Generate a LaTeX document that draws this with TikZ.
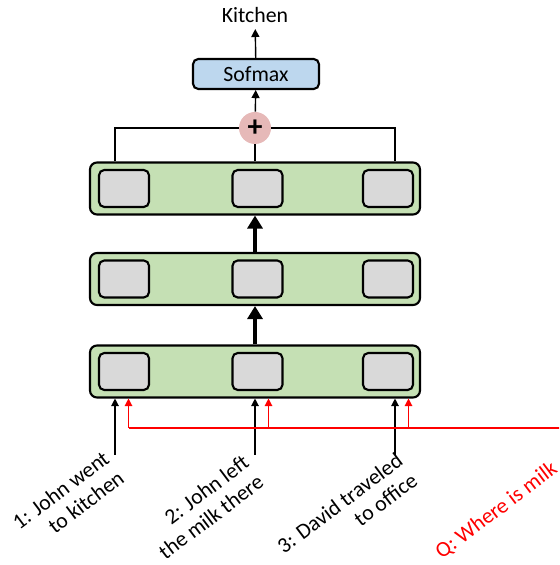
\documentclass[tikz,border=0pt]{standalone}
\usepackage{fontspec}
\setmainfont{Carlito}
\usetikzlibrary{arrows.meta}
\definecolor{layergreen}{HTML}{C5E0B4}
\definecolor{cellgrey}{HTML}{D9D9D9}
\definecolor{softblue}{HTML}{BDD7EE}
\definecolor{sumpink}{HTML}{E6B9B8}
\definecolor{qred}{HTML}{FF0000}

\begin{document}
\begin{tikzpicture}[font=\fontsize{12.4}{14}\selectfont,
  layer/.style={draw, line width=1.2pt, rounded corners=4pt, fill=layergreen,
    minimum width=6.6cm, minimum height=1.04cm},
  cell/.style={draw, line width=1.2pt, rounded corners=3pt, fill=cellgrey,
    minimum width=1cm, minimum height=0.74cm},
  softbox/.style={draw, line width=1.2pt, rounded corners=3pt, fill=softblue,
    minimum width=2.52cm, minimum height=0.6cm, inner sep=0pt},
  sentence/.style={rotate=37, align=right},
  uparrow/.style={line width=2.6pt, -{Triangle[width=0.3cm, length=0.26cm]}},
  outarrow/.style={line width=0.8pt, -{Triangle[width=0.16cm, length=0.16cm]}},
  inarrow/.style={line width=0.7pt, -{Triangle[width=0.15cm, length=0.15cm]}},
  qarrow/.style={inarrow, qred},
  link/.style={line width=0.6pt}]
 \useasboundingbox (0,0) rectangle (11.18,11.3);
 \clip (0,0) rectangle (11.18,11.3);

 % three layers of memory cells
 \foreach \n/\y in {1/3.87,2/5.72,3/7.53}
 {
  \node[layer] (L\n) at (5.1,\y) {};
  \foreach \m/\x in {1/2.48,2/5.15,3/7.76}
  {
   \node[cell] (C\n\m) at (\x,\y) {};
  }
 }
 \draw[uparrow] (L1.north) -- (L2.south);
 \draw[uparrow] (L2.north) -- (L3.south);

 % sum and output
 \node[circle, fill=sumpink, minimum size=0.64cm, inner sep=0pt] (sum) at (5.1,8.74)
   {\fontsize{17}{17}\selectfont\textbf{+}};
 \draw[link] ([xshift=-2.8cm]L3.north) |- (sum.west);
 \draw[link] ([xshift=2.8cm]L3.north) |- (sum.east);
 \draw[link] (L3.north) -- (sum.south);
 \node[softbox] (soft) at (5.12,9.82) {Sofmax};
 \node[anchor=south] (out) at (5.1,10.72) {Kitchen};
 \draw[outarrow] (sum) -- (soft);
 \draw[outarrow] (soft) -- (out);

 % sentences and question
 \coordinate (qin) at (11.4,2.74);
 \foreach \i/\x in {1/2.3,2/5.1,3/7.9}
 {
  \coordinate (s\i) at (\x,2.2);
  \coordinate (r\i) at (\x+0.27,2.74);
  \draw[inarrow] (s\i) -- (s\i |- L1.south);
  \draw[qarrow] (r\i) -- (r\i |- L1.south);
 }
 \draw[link, qred] (r1) -- (qin);

 \node[sentence] (t1) at (1.36,1.3) {1: John went\\to kitchen};
 \node[sentence] (t2) at (4.07,1.16) {2: John left\\the milk there};
 \node[sentence] (t3) at (6.94,1.04) {3: David traveled\\to office};
 \node[sentence, text=qred] (tq) at (9.93,1.08) {Q: Where is milk};
\end{tikzpicture}
\end{document}
